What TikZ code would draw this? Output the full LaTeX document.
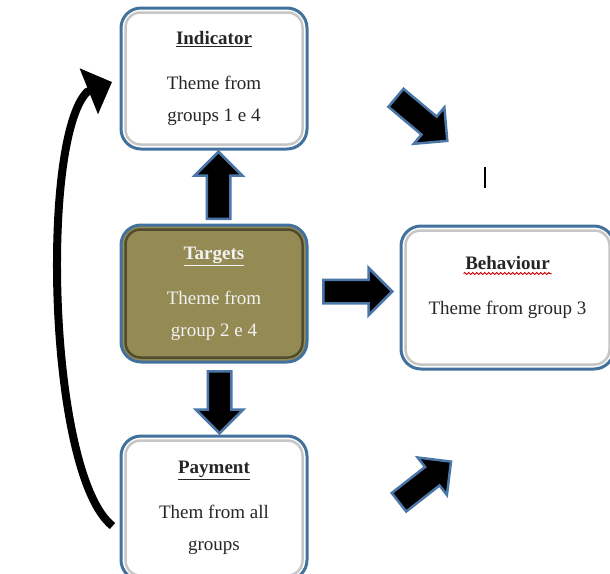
\documentclass[tikz,border=0pt]{standalone}
\usepackage{fontspec}
\setmainfont{Liberation Serif}
\usetikzlibrary{calc,shapes.arrows,arrows.meta,decorations.pathmorphing}
\definecolor{boxblue}{HTML}{41719C}
\definecolor{olivefill}{HTML}{948A54}
\definecolor{arrowblue}{HTML}{4A76A8}

\begin{document}
\begin{tikzpicture}[x=1pt,y=-1pt,
		box/.style={draw=boxblue,line width=3,rounded corners=20,fill=white,minimum width=186,
			align=center,font=\fontsize{19}{32}\selectfont,text=black!85},
		innerline/.style={draw=gray!45,line width=2.5,rounded corners=15},
		block/.style={single arrow,draw=arrowblue,line width=2.5,fill=black,minimum width=45,
			single arrow head extend=12,inner xsep=0,inner ysep=10.5,anchor=tail}]
		\useasboundingbox (0,0) rectangle (610,573);
		\clip (0,0) rectangle (610,573);

		\node[box,minimum height=141] (indicator) at (214,78.5)
			{\textbf{\underline{Indicator}}\\[13pt] Theme from\\ groups 1 e 4};
		\node[box,minimum height=137,fill=olivefill,text=white!95!black] (targets) at (214,293.5)
			{\textbf{\underline{Targets}}\\[13pt] Theme from\\ group 2 e 4};
		\node[box,minimum height=143,minimum width=213,text depth=24] (behaviour) at (507.5,297.5)
			{\textbf{Behaviour}\\[13pt] Theme from group 3};
		\node[box,minimum height=144] (payment) at (214,508)
			{\textbf{\underline{Payment}}\\[13pt] Them from all\\ groups};

		% inner frames
		\foreach \n in {indicator,behaviour,payment}
			\draw[innerline] ($(\n.south west)+(6,-6)$) rectangle ($(\n.north east)+(-6,6)$);
		\draw[innerline,draw=olivefill!55!black] ($(targets.south west)+(6,-6)$) rectangle ($(targets.north east)+(-6,6)$);
		\draw[red!80!black,line width=1,decorate,decoration={snake,amplitude=0.9,segment length=4}]
			($(behaviour.center)+(-44,-24)$) -- ++(88,0);

		% block arrows
		\node[block,minimum height=67,rotate=90] (up) at (218.5,220) {};
		\node[block,minimum height=62,rotate=-90] (down) at (219.5,370) {};
		\node[block,minimum height=69,minimum width=43] (right) at (322,291.5) {};
		\node[block,minimum height=67,rotate=-40] (topdiag) at (395,97) {};
		\node[block,minimum height=66,rotate=38] (botdiag) at (398,503) {};

		% loop back from payment to indicator
		\coordinate (loopstart) at ($(payment.west)+(-7,18)$);
		\coordinate (loopend) at ($(indicator.west)+(-7.5,3.5)$);
		\draw[line width=8,-{Triangle[length=25pt,width=48pt]}]
			(loopstart) .. controls (48,475) and (40,140) .. (87,92) -- (loopend);

		\draw[line width=1.2] (485,167) -- (485,188);
\end{tikzpicture}
\end{document}
